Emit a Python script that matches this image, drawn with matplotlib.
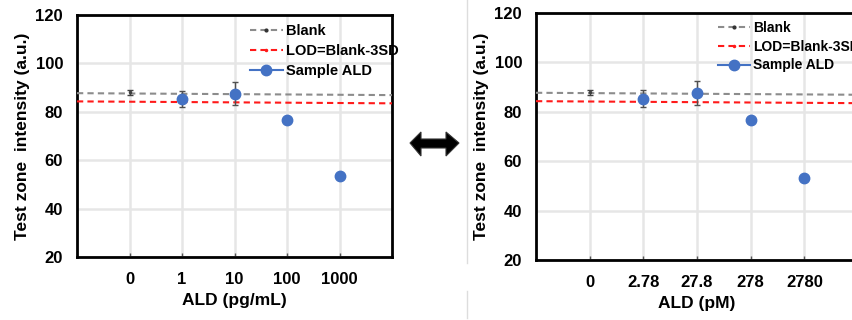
import matplotlib
matplotlib.use("Agg")
import matplotlib.pyplot as plt
import matplotlib.patches as mpatches
from matplotlib.lines import Line2D

plt.rcParams['font.family'] = ['Liberation Sans', 'DejaVu Sans']
plt.rcParams['font.weight'] = 'bold'

# data (same measurements, two unit conventions)
labels_pg = ['0', '1', '10', '100', '1000']
labels_pm = ['0', '2.78', '27.8', '278', '2780']
sample_idx = [1, 2, 3, 4]
sample_y = [85.3, 87.5, 76.8, 53.3]
sample_err = [3.5, 4.8, 0, 0]
blank_mean = 88.0
blank_sd = 1.0
line_x = [-1, 5]
blank_line = [87.7, 86.9]
lod_line = [84.3, 83.5]

blue = '#4472C4'
gray = '#8c8c8c'
red = '#ff1a1a'


def panel(ax, labels, xlabel, fs, leg_size, leg_anchor, leg_space):
    ax.plot(line_x, blank_line, ls='--', color=gray, lw=1.5, dashes=(3, 2), zorder=3)
    ax.plot(line_x, lod_line, ls='--', color=red, lw=1.5, dashes=(3, 2), zorder=3)
    ax.errorbar([0], [blank_mean], yerr=[blank_sd], fmt='.', color='#404040', ms=3,
                capsize=2, elinewidth=1, zorder=4)
    ax.errorbar(sample_idx, sample_y, yerr=sample_err, fmt='none', ecolor='#505050',
                capsize=2.5, elinewidth=1, zorder=4)
    ax.plot(sample_idx, sample_y, 'o', color=blue, ms=7.5, zorder=5)

    ax.set_xlim(-1, 5)
    ax.set_ylim(20, 120)
    ax.set_xticks(range(len(labels)))
    ax.set_xticklabels(labels, fontsize=12, fontweight='bold')
    ax.set_yticks([20, 40, 60, 80, 100, 120])
    ax.set_yticklabels(['20', '40', '60', '80', '100', '120'], fontsize=12, fontweight='bold')
    ax.tick_params(axis='x', direction='in', length=3, width=1, pad=11, color='#555555')
    ax.tick_params(axis='y', length=0, pad=10)
    ax.grid(True, color='#e6e6e6', lw=1.8)
    ax.set_axisbelow(True)
    for s in ax.spines.values():
        s.set_linewidth(2)
        s.set_color('black')
    ax.set_xlabel(xlabel, fontsize=fs, fontweight='bold', labelpad=4)
    ax.set_ylabel('Test zone  intensity (a.u.)', fontsize=fs, fontweight='bold', labelpad=4)

    handles = [
        Line2D([], [], color=gray, ls='--', dashes=(3, 2), lw=1.5, marker='.', ms=4,
               mfc='#333333', mec='#333333'),
        Line2D([], [], color=red, ls='--', dashes=(3, 2), lw=1.5, marker='.', ms=3),
        Line2D([], [], color=blue, lw=1.5, marker='o', ms=7.5),
    ]
    ax.legend(handles, ['Blank', 'LOD=Blank-3SD', 'Sample ALD'], loc='upper left',
              bbox_to_anchor=leg_anchor, frameon=False, handlelength=2.3,
              handletextpad=0.2, labelspacing=leg_space, borderaxespad=0.2,
              prop={'weight': 'bold', 'size': leg_size})


fig = plt.figure(figsize=(8.52, 3.2), dpi=100)

ax1 = fig.add_axes([77 / 852, 63 / 320, 315 / 852, 242 / 320])
panel(ax1, labels_pg, 'ALD (pg/mL)', 12.5, 10.5, (0.52, 1.0), 0.42)

ax2 = fig.add_axes([536 / 852, 60 / 320, 322 / 852, 247 / 320])
panel(ax2, labels_pm, 'ALD (pM)', 12.5, 10, (0.54, 1.0), 0.33)

# faint border of the second picture
fig.add_artist(Line2D([467 / 852, 467 / 852], [57 / 320, 1], color='#dddddd', lw=1))
fig.add_artist(Line2D([467 / 852, 467 / 852], [2 / 320, 29 / 320], color='#dddddd', lw=1))

# double-headed arrow between panels (pixel outline, y from top)
arrow_px = [(410, 143), (421, 132), (421, 139), (446, 139), (446, 132), (459, 143),
            (446, 156), (446, 148), (421, 148), (421, 156)]
arrow_pts = [(x / 852, 1 - y / 320) for x, y in arrow_px]
fig.add_artist(mpatches.Polygon(arrow_pts, closed=True, transform=fig.transFigure,
                                facecolor='black', edgecolor='#333333', lw=0.8))

fig.savefig('out.png', dpi=100)
